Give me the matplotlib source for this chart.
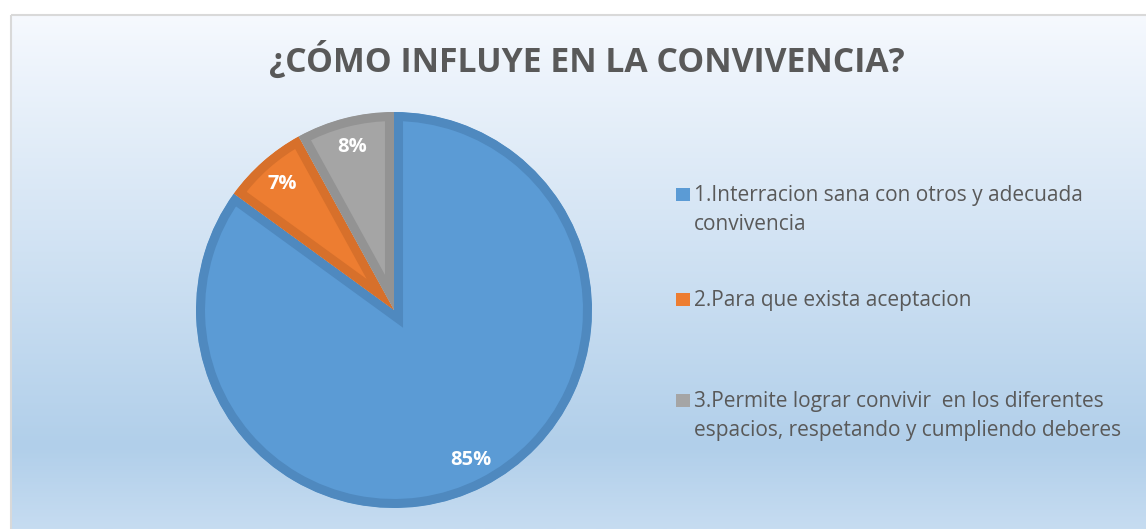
import matplotlib.pyplot as plt
import matplotlib.patches as mpatches
import numpy as np

# data
title = '¿CÓMO INFLUYE EN LA CONVIVENCIA?'
labels = ['1.Interracion sana con otros y adecuada\nconvivencia',
          '2.Para que exista aceptacion',
          '3.Permite lograr convivir  en los diferentes\nespacios, respetando y cumpliendo deberes']
values = [85, 7, 8]
colors = ['#5B9BD5', '#ED7D31', '#A5A5A5']
edges = ['#4F89BF', '#D7702B', '#939393']

W, H = 1146, 529
fig = plt.figure(figsize=(W / 100, H / 100), dpi=100)
fig.patch.set_facecolor('white')

# background gradient panel
bg = fig.add_axes([0, 0, 1, 1])
bg.set_xlim(0, W)
bg.set_ylim(H, 0)
bg.axis('off')
ys = np.linspace(14, H, 400)
stops_y = [14, 447, H]
stops_c = np.array([[246, 249, 254], [177, 207, 234], [198, 220, 241]]) / 255
grad = np.stack([np.interp(ys, stops_y, stops_c[:, k]) for k in range(3)], axis=-1)
bg.imshow(grad[:, None, :], extent=[10.5, W + 2, H, 14.5], aspect='auto', zorder=0)
bg.add_patch(mpatches.Rectangle((10.5, 14.5), W, H, fill=False, ec='#D9D9D9', lw=1.5, zorder=1))

# title
bg.text(587, 61, title, ha='center', va='center', fontsize=24.3, fontweight='bold',
        color='#595959', family='Open Sans')

# pie
cx, cy, r = 394, 310, 198
ax = fig.add_axes([(cx - r) / W, (H - cy - r) / H, 2 * r / W, 2 * r / H])
wedges, texts, autotexts = ax.pie(values, colors=colors, startangle=90, counterclock=False,
                                  autopct='%d%%', pctdistance=0.85,
                                  textprops=dict(color='white', fontsize=14.5, fontweight='bold',
                                                 family='Open Sans'))
for w, ec in zip(wedges, edges):
    w.set_edgecolor(ec)
    w.set_linewidth(13)
    w.set_clip_path(w)
    w.set_clip_on(True)
ax.set_xlim(-1, 1)
ax.set_ylim(-1, 1)
ax.axis('off')

# legend
leg_y = [185, 290, 391]
for lab, c, ec, y in zip(labels, colors, edges, leg_y):
    bg.add_patch(mpatches.Rectangle((676, y + 3), 14, 13, fc=c, ec='none'))
    bg.text(694, y, lab, ha='left', va='top', fontsize=15, color='#595959',
            family='Open Sans', linespacing=1.5)

fig.savefig('out.png', dpi=100)
